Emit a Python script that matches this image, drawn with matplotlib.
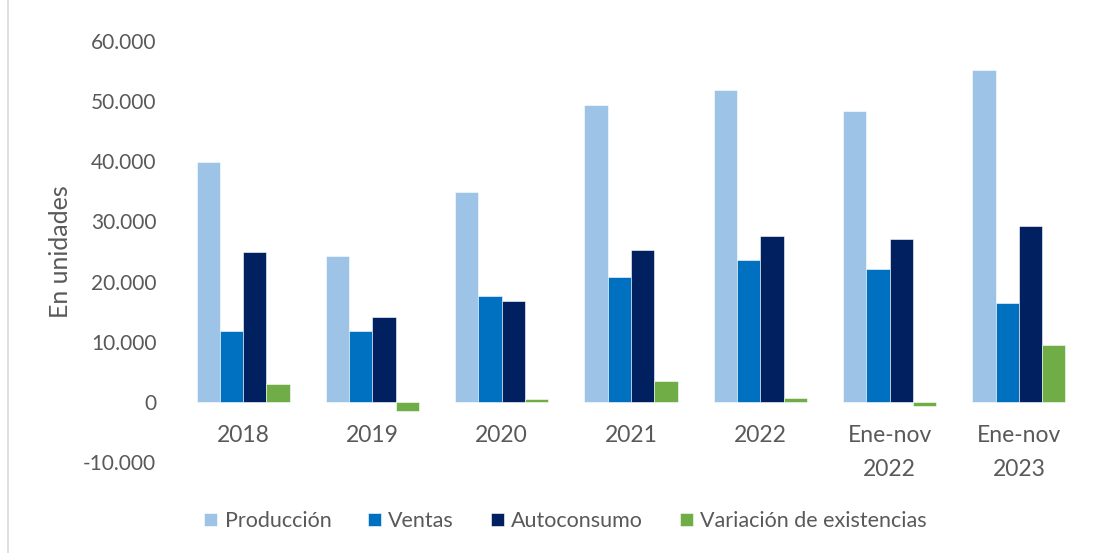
import numpy as np
import matplotlib.pyplot as plt
from matplotlib.lines import Line2D

plt.rcParams['font.family'] = ['Lato', 'DejaVu Sans']

# Data (units)
categories = ['2018', '2019', '2020', '2021', '2022', 'Ene-nov\n2022', 'Ene-nov\n2023']
produccion = [39800, 24300, 34900, 49400, 51800, 48400, 55100]
ventas = [11800, 11700, 17600, 20700, 23500, 22100, 16400]
autoconsumo = [24900, 14100, 16800, 25300, 27600, 27100, 29200]
variacion = [2950, -1500, 450, 3450, 600, -750, 9400]

series = [('Producción', produccion, '#9DC3E6'),
          ('Ventas', ventas, '#0070C0'),
          ('Autoconsumo', autoconsumo, '#002060'),
          ('Variación de existencias', variacion, '#70AD47')]

grey = '#595959'

fig = plt.figure(figsize=(11, 5.53), dpi=100)
ax = fig.add_axes([0.1623, 0.1646, 0.8227, 0.7613])

x = np.arange(len(categories))
w = 0.18
for i, (name, vals, col) in enumerate(series):
    ax.bar(x + (i - 1.5) * w, vals, width=w, color=col, label=name,
           edgecolor='white', linewidth=0.4)

ax.set_xlim(-0.5, len(categories) - 0.5)
ax.set_ylim(-10000, 60000)
yt = np.arange(-10000, 60001, 10000)
ax.set_yticks(yt)
ax.set_yticklabels([f'{v:,}'.replace(',', '.') for v in yt])

ax.spines['bottom'].set_position(('data', 0))
for s in ax.spines.values():
    s.set_visible(False)
ax.tick_params(axis='both', length=0, colors=grey)
ax.tick_params(axis='y', labelsize=15, pad=16)
ax.tick_params(axis='x', labelsize=16.5, pad=17)

ax.set_xticks(x)
ax.set_xticklabels(categories, linespacing=1.75)

fig.text(60 / 1100, 1 - 252 / 553, 'En unidades', rotation=90, ha='center',
         va='center', fontsize=18, color=grey)

ax.legend(loc='center', bbox_to_anchor=(0.514, 0.058), bbox_transform=fig.transFigure,
          ncol=4, frameon=False, fontsize=15.5, handlelength=0.6, handleheight=0.6,
          handletextpad=0.35, columnspacing=1.7, labelcolor=grey)

fig.add_artist(Line2D([8 / 1100, 8 / 1100], [0, 1], transform=fig.transFigure,
                      color='#D9D9D9', linewidth=1.2))

fig.savefig('out.png', dpi=100)
